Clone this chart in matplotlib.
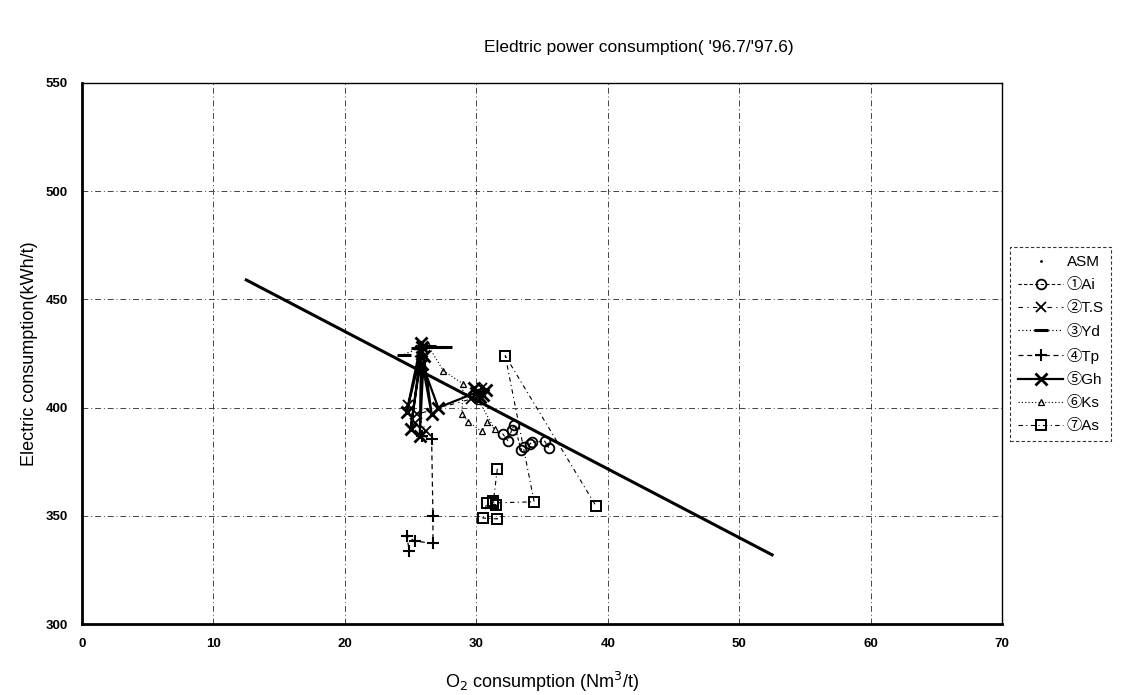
import matplotlib
matplotlib.use("Agg")
import matplotlib.pyplot as plt
from matplotlib.lines import Line2D

plt.rcParams['font.family'] = ['Liberation Sans', 'Noto Sans CJK JP', 'DejaVu Sans']

# ---- data ----
trend_x = [12.5, 52.5]
trend_y = [459, 332]

ai_x = [32.0, 32.4, 32.7, 32.9, 33.4, 33.6, 34.1, 34.2, 35.2, 35.5]
ai_y = [388, 384.7, 389.8, 392, 380.5, 382, 383.3, 384, 384.5, 381.5]

ts_x = [24.8, 25.3, 26.2, 25.5, 29.6, 30.4]
ts_y = [401, 393, 389, 397, 404, 409]

yd_x = [24.5, 25.6, 26.4, 27.1, 27.6]
yd_y = [424.5, 427.5, 428.5, 428, 428]

tp_x = [25.9, 26.6, 26.7, 26.7, 25.3, 24.7, 24.9]
tp_y = [387, 385.6, 350, 337.3, 338.4, 340.7, 334]

gh_x = [25.8, 24.7, 25.9, 25.0, 25.8, 25.7, 26.0, 26.6, 25.9, 27.1, 30.0, 30.5, 29.8, 30.3, 30.7, 30.1]
gh_y = [430, 398, 428, 390, 426, 387, 424, 397, 420, 400, 407, 406, 409, 405, 408, 406]

ks_x = [26.3, 27.5, 29.0, 28.9, 29.4, 30.4, 30.8, 31.4, 30.2]
ks_y = [429, 417, 411, 397, 393.5, 389, 393.5, 390, 403]

as_x = [31.6, 31.3, 31.5, 30.8, 30.5, 31.6, 31.3, 34.4, 32.2, 39.1]
as_y = [371.8, 357, 355, 356, 349, 348.6, 356, 356.5, 424, 354.6]

x_ticks = [0, 10, 20, 30, 40, 50, 60, 70]
y_ticks = [300, 350, 400, 450, 500, 550]

labels = ['ASM', '①Ai', '②T.S', '③Yd', '④Tp', '⑤Gh', '⑥Ks', '⑦As']

# ---- figure ----
fig = plt.figure(figsize=(11.26, 6.95), dpi=100)
ax = fig.add_axes([0.0728, 0.102, 0.8172, 0.7786])

ax.plot(trend_x, trend_y, color='black', lw=2.2, zorder=5)

h_asm = Line2D([], [], color='black', ls='None', marker='.', ms=2)
h_ai, = ax.plot(ai_x, ai_y, color='black', ls=(0, (3, 2)), lw=0.8,
                marker='o', ms=7, mfc='none', mew=1.3)
h_ts, = ax.plot(ts_x, ts_y, color='black', ls=(0, (4, 4, 1, 4)), lw=0.8,
                marker='x', ms=7, mew=1.3)
h_yd, = ax.plot(yd_x, yd_y, color='black', ls=(0, (1, 2)), lw=0.9,
                marker='_', ms=10, mew=2.2)
h_tp, = ax.plot(tp_x, tp_y, color='black', ls=(0, (4, 3)), lw=0.9,
                marker='+', ms=8, mew=1.5)
h_gh, = ax.plot(gh_x, gh_y, color='black', ls='-', lw=1.6,
                marker='x', ms=9, mew=2.0)
h_ks, = ax.plot(ks_x, ks_y, color='black', ls=(0, (1, 2)), lw=0.8,
                marker='^', ms=4, mfc='none', mew=0.9)
h_as, = ax.plot(as_x, as_y, color='black', ls=(0, (4, 3, 1, 3)), lw=0.8,
                marker='s', ms=7, mfc='none', mew=1.4)

ax.set_xlim(0, 70)
ax.set_ylim(300, 550)
ax.set_xticks(x_ticks)
ax.set_yticks(y_ticks)
ax.tick_params(length=0, labelsize=9.5, pad=10)
for lab in ax.get_xticklabels() + ax.get_yticklabels():
    lab.set_fontweight('bold')
ax.grid(True, color='#444444', ls=(0, (6, 3, 1, 3)), lw=0.7)
for s in ['left', 'bottom']:
    ax.spines[s].set_linewidth(2.0)
for s in ['top', 'right']:
    ax.spines[s].set_linewidth(1.0)

ax.set_xlabel(r'O$_2$ consumption (Nm$^3$/t)', fontsize=13, labelpad=14)
ax.set_ylabel('Electric consumption(kWh/t)', fontsize=13, labelpad=6)

fig.text(0.567, 0.932, "Eledtric power consumption( '96.7/'97.6)",
         ha='center', va='center', fontsize=12.5)

leg = fig.legend([h_asm, h_ai, h_ts, h_yd, h_tp, h_gh, h_ks, h_as], labels,
                 loc='upper left', bbox_to_anchor=(0.897, 0.644),
                 fontsize=11, frameon=True, fancybox=False,
                 handlelength=3.0, handletextpad=0.2, labelspacing=0.6,
                 borderpad=0.5, borderaxespad=0)
leg.get_frame().set_edgecolor('black')
leg.get_frame().set_linewidth(0.8)
leg.get_frame().set_linestyle((0, (3, 2)))

fig.savefig('out.png', dpi=100)
